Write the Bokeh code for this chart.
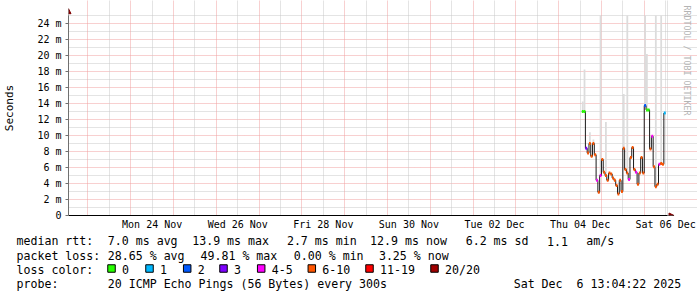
import math
import pandas as pd
from bokeh.plotting import figure
from bokeh.models import Range1d, FixedTicker, Grid, Arrow, NormalHead, Label, ColumnDataSource
from bokeh.layouts import column
from bokeh.embed import file_html
from bokeh.resources import INLINE
from bokeh.core.properties import value

# ---------------- data ----------------
end_time = "2025-12-06 13:04:22"
span_days = 14
data_start = "2025-12-04 13:00:00"
step_hours = 1

median_ms = [13.0, 13.0, 8.4, 7.8, 9.0, 7.4, 9.0, 7.6, 4.4, 2.9,
             5.0, 7.0, 5.4, 5.0, 4.4, 5.3, 5.2, 4.7, 4.4, 3.75,
             2.7, 4.4, 3.0, 8.4, 5.75, 5.3, 4.5, 7.25, 8.5, 5.75,
             5.4, 3.9, 5.3, 7.25, 5.3, 13.75, 13.2, 13.2, 8.3, 9.9,
             6.1, 3.6, 3.9, 6.4, 6.5, 6.4, 12.8]
loss_idx = [0, 0, 3, 5, 5, 5, 5, 5, 4, 5,
            4, 5, 5, 5, 5, 5, 5, 5, 5, 5,
            5, 5, 5, 5, 5, 5, 4, 5, 5, 5,
            4, 5, 5, 5, 5, 2, 0, 0, 5, 4,
            5, 5, 5, 4, 5, 5, 1]
smoke_max_ms = [14.25, 18.25, None, None, 10.4, None, 9.5, None, None, None,
                25.0, None, None, 11.7, None, None, None, None, None, None,
                None, None, None, 15.2, None, 25.0, None, None, None, None,
                None, None, None, None, None, 25.0, 20.2, None, None, None,
                None, 25.0, None, None, 25.0, None, None]

loss_labels = ["0", "1", "2", "3", "4-5", "6-10", "11-19", "20/20"]
loss_colors = ["#26ff00", "#00b8ff", "#0059ff", "#7e00ff", "#ff00ff", "#ff5500", "#ff0000", "#a00000"]

ytick_values = [0, 2, 4, 6, 8, 10, 12, 14, 16, 18, 20, 22, 24]
ytick_labels = ["0", "2 m", "4 m", "6 m", "8 m", "10 m", "12 m", "14 m", "16 m", "18 m", "20 m", "22 m", "24 m"]
xtick_times = ["2025-11-24 12:00", "2025-11-26 12:00", "2025-11-28 12:00", "2025-11-30 12:00",
               "2025-12-02 12:00", "2025-12-04 12:00", "2025-12-06 12:00"]
xtick_labels = ["Mon 24 Nov", "Wed 26 Nov", "Fri 28 Nov", "Sun 30 Nov", "Tue 02 Dec", "Thu 04 Dec", "Sat 06 Dec"]

stats_rtt = ["7.0 ms avg", "13.9 ms max", "2.7 ms min", "12.9 ms now", "6.2 ms sd", "1.1", "am/s"]
stats_loss = ["28.65 % avg", "49.81 % max", "0.00 % min", "3.25 % now"]
probe_text = "20 ICMP Echo Pings (56 Bytes) every 300s"
stamp_parts = ["Sat Dec", "6 13:04:22 2025"]   # "Sat Dec  6 13:04:22 2025"

# ---------------- helpers ----------------
def ms(ts):
    return pd.Timestamp(ts).value // 10**6

HOUR = 3600 * 1000
end_ms = ms(end_time)
start_ms = end_ms - span_days * 24 * HOUR
px_ms = (end_ms - start_ms) / 600.0
t0 = ms(data_start)
n = len(median_ms)
times = [t0 + k * step_hours * HOUR for k in range(n)]

Y_TOP = 215 / 8.0  # frame spans the full height above the x axis (8 px per ms)

# ---------------- main chart ----------------
p = figure(width=697, height=234, output_backend="svg", toolbar_location=None,
           x_range=Range1d(start_ms, end_ms + 30 * px_ms), y_range=Range1d(0, Y_TOP),
           min_border_left=67, min_border_right=0, min_border_top=0, min_border_bottom=19,
           background_fill_color="white", border_fill_color="white", outline_line_color=None)
p.frame_align = False

# grids
p.xgrid.visible = False
p.ygrid.ticker = FixedTicker(ticks=ytick_values, minor_ticks=[v + 1 for v in ytick_values])
p.ygrid.bounds = (start_ms, end_ms)
p.ygrid.grid_line_color = "#f0a0a0"
p.ygrid.grid_line_dash = "1 1"
p.ygrid.minor_grid_line_color = "#c8c8c8"
p.ygrid.minor_grid_line_dash = "1 1"

day0 = ms("2025-11-23 00:00")
midnights = [day0 + d * 24 * HOUR for d in range(14)]
noons = [day0 + d * 24 * HOUR + 12 * HOUR for d in range(14)]
p.add_layout(Grid(dimension=0, ticker=FixedTicker(ticks=noons), bounds=(0, 25.25),
                  grid_line_color="#c8c8c8", grid_line_dash="1 1"))
p.add_layout(Grid(dimension=0, ticker=FixedTicker(ticks=midnights), bounds=(0, 25.25),
                  grid_line_color="#f0a0a0", grid_line_dash="1 1"))
p.add_layout(Grid(dimension=0, ticker=FixedTicker(ticks=[end_ms]), bounds=(0, 25.25),
                  grid_line_color="#c8c8c8", grid_line_dash="1 1"))

# smoke
sm = [(times[k] + HOUR / 2, median_ms[k], smoke_max_ms[k]) for k in range(n) if smoke_max_ms[k] is not None]
p.vbar(x=[s[0] for s in sm], width=HOUR * step_hours, bottom=[s[1] for s in sm], top=[s[2] for s in sm],
       fill_color="#dcdcdc", line_color=None)

# median step line
p.step(x=times + [times[-1] + HOUR], y=median_ms + [median_ms[-1]], mode="after",
       line_color="#1a1a1a", line_width=1)

# loss-coloured median segments
src = ColumnDataSource(dict(x0=times, x1=[t + HOUR for t in times], y=median_ms,
                            c=[loss_colors[i] for i in loss_idx]))
p.segment(x0="x0", x1="x1", y0="y", y1="y", line_color="c", line_width=3, line_cap="butt", source=src)

# axes
yax = p.yaxis[0]
yax.ticker = FixedTicker(ticks=ytick_values, minor_ticks=[])
yax.bounds = (0, 25)
yax.major_label_overrides = {float(v): l for v, l in zip(ytick_values, ytick_labels)}
yax.major_label_text_font = "DejaVu Sans Mono"
yax.major_label_text_font_size = "10px"
yax.major_label_text_color = "#000000"
yax.major_tick_out = 3
yax.major_tick_in = 0
yax.major_tick_line_color = "#707070"
yax.minor_tick_line_color = None
yax.major_label_standoff = 4
yax.axis_line_color = "#707070"
yax.axis_label = "Seconds"
yax.axis_label_text_font = "DejaVu Sans Mono"
yax.axis_label_text_font_size = "11px"
yax.axis_label_text_font_style = "normal"
yax.axis_label_text_color = "#000000"
yax.axis_label_standoff = 18

xt = [ms(t) for t in xtick_times]
xax = p.xaxis[0]
xax.ticker = FixedTicker(ticks=xt, minor_ticks=[])
xax.bounds = (start_ms, end_ms)
xax.major_label_overrides = {float(v): l for v, l in zip(xt, xtick_labels)}
xax.major_label_text_font = "DejaVu Sans Mono"
xax.major_label_text_font_size = "10px"
xax.major_label_text_color = "#000000"
xax.major_tick_out = 0
xax.major_tick_in = 0
xax.minor_tick_line_color = None
xax.major_label_standoff = 3
xax.axis_line_color = "#000000"

# arrows
p.add_layout(Arrow(end=NormalHead(size=5, fill_color="#7f0000", line_color="#7f0000"),
                   x_start=start_ms, y_start=24.9, x_end=start_ms, y_end=25.85,
                   line_color="#707070", line_width=1))
p.add_layout(Arrow(end=NormalHead(size=5, fill_color="#7f0000", line_color="#7f0000"),
                   x_start=end_ms, y_start=0, x_end=end_ms + 6.5 * px_ms, y_end=0,
                   line_color="#000000", line_width=1))

# watermark
p.add_layout(Label(x=end_ms + 19.5 * px_ms, y=Y_TOP - 5 / 8.0, text="RRDTOOL / TOBI OETIKER",
                   angle=-math.pi / 2, text_align="left", text_baseline="middle",
                   text_font="DejaVu Sans Mono", text_font_size="8.3px", text_color="#b4b4b4"))

# ---------------- legend area ----------------
q = figure(width=697, height=63, output_backend="svg", toolbar_location=None,
           x_range=Range1d(0, 697), y_range=Range1d(63, 0),
           x_axis_type=None, y_axis_type=None, min_border=0,
           background_fill_color="white", border_fill_color="white", outline_line_color=None)
q.frame_align = False

tx, ty, tt = [], [], []
def put(x, y, s):
    tx.append(x); ty.append(y); tt.append(s)

put(16, 6.7, "median rtt:")
for x, s in zip([107.3, 191.7, 286.4, 369.6, 465.2, 546.6, 585.7], stats_rtt):
    put(x, 6.7, s)
put(16, 21, "packet loss:")
for x, s in zip([107.3, 200.0, 293.3, 378.4], stats_loss):
    put(x, 21, s)
put(16, 35.3, "loss color:")
box_left = [107.0, 145.0, 182.7, 219.0, 256.7, 307.3, 365.0, 430.0]
for bl, lab in zip(box_left, loss_labels):
    put(bl + 14.5, 35.3, lab)
put(16, 49.3, "probe:")
put(107.3, 49.3, probe_text)
put(513.2, 49.3, stamp_parts[0])
put(513.2 + 9 * 6.98, 49.3, stamp_parts[1])

q.text(x=tx, y=ty, text=tt, text_font=value("DejaVu Sans Mono"), text_font_size=value("11.6px"),
       text_baseline="middle", text_align="left", text_color="#000000")
q.rect(x=[b + 4 for b in box_left], y=[34] * len(box_left), width=7.5, height=7.5,
       fill_color=loss_colors, line_color="#000000", line_width=1)

layout = column(p, q, spacing=0)
open("out.html", "w").write(file_html(layout, INLINE))
